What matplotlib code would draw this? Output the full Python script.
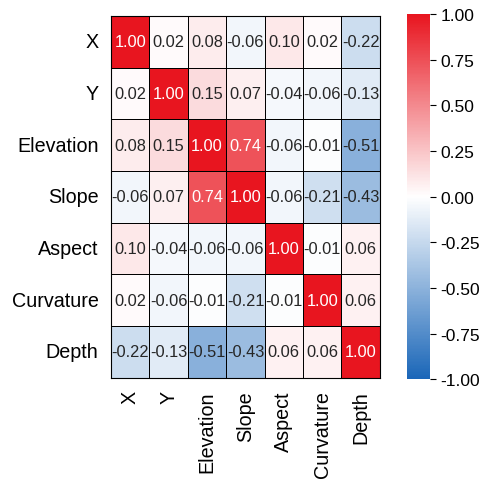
import numpy as np
import matplotlib.pyplot as plt
import seaborn as sns
from matplotlib.colors import LinearSegmentedColormap

plt.rcParams['font.family'] = ['Liberation Sans', 'DejaVu Sans']

variables = ['X', 'Y', 'Elevation', 'Slope', 'Aspect', 'Curvature', 'Depth']

# correlation matrix (lower triangle mirrored)
corr = np.array([
    [1.00, 0.02, 0.08, -0.06, 0.10, 0.02, -0.22],
    [0.02, 1.00, 0.15, 0.07, -0.04, -0.06, -0.13],
    [0.08, 0.15, 1.00, 0.74, -0.06, -0.01, -0.51],
    [-0.06, 0.07, 0.74, 1.00, -0.06, -0.21, -0.43],
    [0.10, -0.04, -0.06, -0.06, 1.00, -0.01, 0.06],
    [0.02, -0.06, -0.01, -0.21, -0.01, 1.00, 0.06],
    [-0.22, -0.13, -0.51, -0.43, 0.06, 0.06, 1.00],
])

cmap = LinearSegmentedColormap.from_list('bwr_custom', ['#1a66b8', '#ffffff', '#e8151f'])

fig = plt.figure(figsize=(4.87, 4.85), dpi=100)
ax = fig.add_axes([0.228, 0.219, 0.552, 0.746])
cax = fig.add_axes([0.836, 0.216, 0.047, 0.753])

sns.heatmap(corr, ax=ax, cbar_ax=cax, cmap=cmap, vmin=-1, vmax=1,
            annot=True, fmt='.2f', annot_kws={'size': 11.8},
            linewidths=0.6, linecolor='black',
            xticklabels=variables, yticklabels=variables)

ax.tick_params(axis='both', length=0, labelsize=14.2, pad=9)
ax.set_xticklabels(variables, rotation=90)
ax.set_yticklabels(variables, rotation=0)
for s in ax.spines.values():
    s.set_visible(True)
    s.set_linewidth(0.8)

cbar = ax.collections[0].colorbar
cbar.set_ticks(np.arange(-1, 1.01, 0.25))
cbar.ax.tick_params(labelsize=12.5, length=4, width=0.8)
cbar.ax.yaxis.set_major_formatter(plt.FormatStrFormatter('%.2f'))

fig.savefig('out.png', dpi=100)
